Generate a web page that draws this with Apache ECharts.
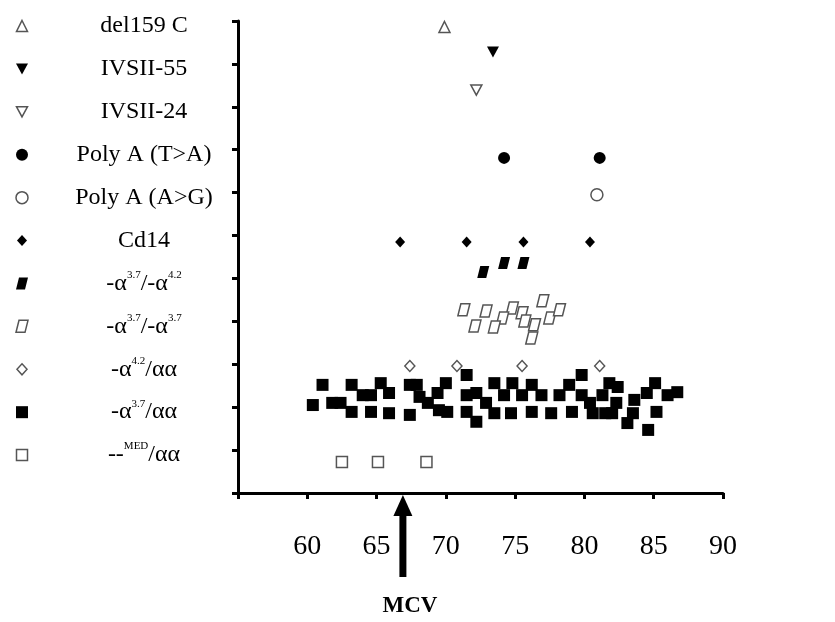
<!DOCTYPE html>
<html><head><meta charset="utf-8">
<script src="https://cdn.jsdelivr.net/npm/echarts@6/dist/echarts.min.js"></script>
<style>html,body{margin:0;padding:0;background:#fff}#c{width:835px;height:622px}</style>
</head><body><div id="c"></div>
<script>
// ---- data (bottom to top category order) ----
const categories = ['--MED/αα','-α3.7/αα','-α4.2/αα','-α3.7/-α3.7','-α3.7/-α4.2','Cd14','Poly A (A>G)','Poly A (T>A)','IVSII-24','IVSII-55','del159 C'];
const xTickValues = [55,60,65,70,75,80,85,90];
const mcvValue = 66.9;
const mcvLabel = 'MCV';

const medAA = [[62.5,0.72],[65.1,0.72],[68.6,0.72]];
const a37AA = [[61.1,2.52],[60.4,2.05],[61.8,2.10],[62.4,2.10],[63.2,2.52],[63.2,1.89],[64.0,2.28],[64.6,2.28],[65.3,2.56],[65.9,2.33],[64.6,1.89],[65.9,1.86],[67.4,2.52],[67.9,2.52],[68.1,2.24],[67.4,1.82],
 [70.0,2.56],[69.4,2.33],[68.7,2.10],[69.5,1.93],[70.1,1.89],[71.5,2.75],[71.5,2.28],[72.2,2.33],[72.9,2.10],[71.5,1.89],[72.2,1.66],[73.5,2.56],[74.2,2.28],[73.5,1.86],[74.8,2.56],[75.5,2.28],[74.7,1.86],[76.2,2.52],[76.9,2.28],[76.2,1.89],[77.6,1.86],
 [79.8,2.75],[78.9,2.52],[78.2,2.28],[79.8,2.28],[79.1,1.89],[80.4,2.10],[80.6,1.86],[81.8,2.56],[82.4,2.47],[81.3,2.28],[82.3,2.10],[81.5,1.86],[82.0,1.86],[83.6,2.17],[83.5,1.86],[83.1,1.63],[84.6,1.47],[84.5,2.33],[85.1,2.56],[85.2,1.89],[86.0,2.28],[86.7,2.35]];
const a42AA = [[67.4,2.96],[70.8,2.96],[75.5,2.96],[81.1,2.96]];
const a37a37 = [[71.3,4.27],[72.9,4.24],[74.8,4.31],[74.1,4.08],[75.5,4.20],[75.7,4.01],[76.4,3.92],[76.2,3.61],[77.0,4.48],[77.5,4.08],[78.2,4.27],[72.1,3.89],[73.5,3.87]];
const a37a42 = [[72.7,5.15],[74.2,5.36],[75.6,5.36]];
const cd14 = [[66.7,5.85],[71.5,5.85],[75.6,5.85],[80.4,5.85]];
const polyAG = [[80.9,6.95]];
const polyTA = [[74.2,7.81],[81.1,7.81]];
const ivs24 = [[72.2,9.39]];
const ivs55 = [[73.4,10.28]];
const del159 = [[69.9,10.86]];

// ---- styles ----
const PARA = 'path://M3,0 L12,0 L9,12 L0,12 Z';
const filled = {color:'#000', opacity:1};
const open = {color:'#fff', borderColor:'#555', borderWidth:1.5, opacity:1};
const styles = [
  {symbol:'rect', size:11, style:open},
  {symbol:'rect', size:12, style:filled},
  {symbol:'diamond', size:[10,11], style:open},
  {symbol:PARA, size:[12,12], style:open},
  {symbol:PARA, size:[12,12], style:filled},
  {symbol:'diamond', size:[10,11], style:filled},
  {symbol:'circle', size:12, style:open},
  {symbol:'circle', size:12, style:filled},
  {symbol:'triangle', size:[11,10], rotate:180, style:open},
  {symbol:'triangle', size:[12,11], rotate:180, style:filled},
  {symbol:'triangle', size:[11,11], style:open}
];
const seriesData = [medAA,a37AA,a42AA,a37a37,a37a42,cd14,polyAG,polyTA,ivs24,ivs55,del159];

const FONT = "'Liberation Serif','Times New Roman',serif";
function rich(s){
  return '{t|' + s.replace(/(\d\.\d|MED)/g, '}{s|$1}{t|') + '}';
}

const chart = echarts.init(document.getElementById('c'));
const mainSeries = seriesData.map((d,i)=>({
  type:'scatter', xAxisIndex:0, yAxisIndex:0, name:categories[i], data:d,
  symbol:styles[i].symbol, symbolSize:styles[i].size, symbolRotate:styles[i].rotate||0,
  itemStyle:styles[i].style, silent:true, z:i===1?3:2
}));
const legendSeries = {
  type:'scatter', xAxisIndex:1, yAxisIndex:1, silent:true,
  data: categories.map((c,i)=>({
    value:[0,i+1], symbol:styles[i].symbol, symbolSize:styles[i].size,
    symbolRotate:styles[i].rotate||0, itemStyle:styles[i].style
  }))
};

chart.setOption({
  animation:false,
  backgroundColor:'#fff',
  grid:[
    {left:238, right:112, top:21, bottom:129},
    {left:0, width:44, top:26, bottom:124}
  ],
  xAxis:[
    {type:'value', gridIndex:0, min:55, max:90, interval:5,
     axisLine:{show:true, onZero:false, lineStyle:{color:'#000', width:3}},
     axisTick:{show:true, length:6, lineStyle:{color:'#000', width:3}},
     splitLine:{show:false},
     axisLabel:{margin:40, fontFamily:FONT, fontSize:28, color:'#000',
       formatter:v=> (v===xTickValues[0] ? '' : String(v))}},
    {type:'value', gridIndex:1, min:-1, max:1, show:false}
  ],
  yAxis:[
    {type:'value', gridIndex:0, min:0, max:11, interval:1,
     axisLine:{show:true, onZero:false, lineStyle:{color:'#000', width:3}},
     axisTick:{show:true, length:6, lineStyle:{color:'#000', width:3}},
     splitLine:{show:false}, axisLabel:{show:false}},
    {type:'value', gridIndex:1, min:0, max:11, interval:1, position:'right',
     axisLine:{show:false}, axisTick:{show:false}, splitLine:{show:false},
     axisLabel:{show:true, margin:100, align:'center', color:'#000',
       formatter:v=> (v>=1 && v<=categories.length) ? rich(categories[v-1]) : '',
       rich:{
         t:{fontFamily:FONT, fontSize:24, color:'#000', lineHeight:28},
         s:{fontFamily:FONT, fontSize:11, color:'#000', lineHeight:11, verticalAlign:'top'}
       }}}
  ],
  series: mainSeries.concat([legendSeries])
});

const p = chart.convertToPixel({xAxisIndex:0, yAxisIndex:0}, [mcvValue, 0]);
const ax = p[0], ay = p[1];
chart.setOption({graphic:[
  {type:'polygon', shape:{points:[[ax, ay+2],[ax-9.5, ay+23],[ax+9.5, ay+23]]}, style:{fill:'#000'}},
  {type:'rect', shape:{x:ax-3.5, y:ay+20, width:7, height:64}, style:{fill:'#000'}},
  {type:'text', x:ax+7, y:ay+113, style:{text:mcvLabel, font:"bold 23px 'Liberation Serif', serif", fill:'#000', align:'center', verticalAlign:'middle'}}
]});
</script></body></html>
